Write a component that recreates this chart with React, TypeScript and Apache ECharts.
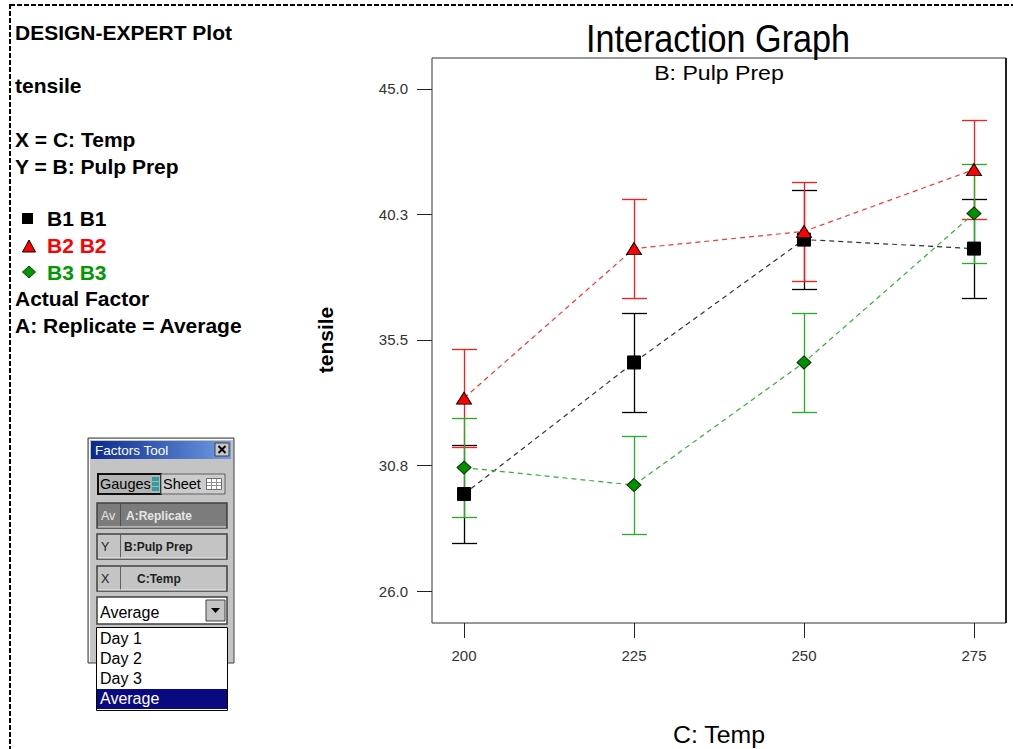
import React, { useEffect, useRef } from "react";
import * as echarts from "echarts";

// ---- data ----
const temps = [200, 225, 250, 275];
const b1Means = [29.67, 34.65, 39.3, 38.96];
const b2Means = [33.3, 38.96, 39.61, 41.95];
const b3Means = [30.67, 30.01, 34.65, 40.29];
const b1HalfLsd = [1.86, 1.86, 1.86, 1.86];
const b2HalfLsd = [1.86, 1.86, 1.86, 1.86];
const b3HalfLsd = [1.86, 1.86, 1.86, 1.86];
const xTicks = [200, 225, 250, 275];
const yTicks = [26.0, 30.75, 35.5, 40.25, 45.0];
const infoLines = ["DESIGN-EXPERT Plot", "tensile", "X = C: Temp", "Y = B: Pulp Prep"];
const legendNames = ["B1 B1", "B2 B2", "B3 B3"];
const footerLines = ["Actual Factor", "A: Replicate = Average"];
const factorRows = [
  ["Av", "A:Replicate"],
  ["Y", "B:Pulp Prep"],
  ["X", "C:Temp"],
];
const replicateOptions = ["Day 1", "Day 2", "Day 3", "Average"];

const FONT = "Liberation Sans, Arial, sans-serif";

function errorSeries(name: string, means: number[], half: number[], color: string, z: number) {
  return {
    type: "custom",
    name,
    silent: true,
    z,
    data: temps.map((t, i) => [t, means[i] - half[i], means[i] + half[i]]),
    encode: { x: 0, y: [1, 2] },
    renderItem: (params: any, api: any) => {
      const x = api.value(0);
      const lo = api.coord([x, api.value(1)]);
      const hi = api.coord([x, api.value(2)]);
      const cx = Math.round(lo[0]) + 0.5;
      const yl = Math.round(lo[1]) + 0.5;
      const yh = Math.round(hi[1]) + 0.5;
      const w = 12.5;
      const st = { stroke: color, lineWidth: 1.3 };
      return {
        type: "group",
        children: [
          { type: "line", shape: { x1: cx, y1: yl, x2: cx, y2: yh }, style: st },
          { type: "line", shape: { x1: cx - w, y1: yl, x2: cx + w, y2: yl }, style: st },
          { type: "line", shape: { x1: cx - w, y1: yh, x2: cx + w, y2: yh }, style: st },
        ],
      };
    },
  };
}

function lineSeries(name: string, means: number[], symbol: string, size: any, fill: string, border: string, lineColor: string) {
  return {
    type: "line",
    name,
    silent: true,
    z: 5,
    data: temps.map((t, i) => [t, means[i]]),
    symbol,
    symbolSize: size,
    showSymbol: true,
    itemStyle: { color: fill, borderColor: border, borderWidth: 1 },
    lineStyle: { color: lineColor, width: 1.2, type: [5, 4] },
    emphasis: { disabled: true },
  };
}

function txt(text: string, x: number, y: number, extra: any = {}) {
  return {
    type: "text",
    x,
    y,
    silent: true,
    style: {
      text,
      fontFamily: FONT,
      fontSize: 21,
      fill: "#000",
      align: "left",
      verticalAlign: "middle",
      ...extra,
    },
  };
}

function buildGraphics() {
  const g: any[] = [];
  // dashed page border (top and left only), drawn as small dash rects
  for (let x = 10; x < 1013; x += 7) {
    g.push({ type: "rect", silent: true, shape: { x, y: 4, width: Math.min(5, 1013 - x), height: 2 }, style: { fill: "#000" } });
  }
  for (let y = 4; y < 749; y += 7) {
    g.push({ type: "rect", silent: true, shape: { x: 9, y, width: 2, height: Math.min(5, 749 - y) }, style: { fill: "#000" } });
  }
  // left info block
  const infoY = [32.5, 85, 139.5, 166];
  const bold = { fontWeight: "bold" };
  infoLines.forEach((t, i) => g.push(txt(t, 15, infoY[i], bold)));
  const legY = [218, 245, 272];
  const legColors = ["#000", "#ff0000", "#009900"];
  legendNames.forEach((t, i) => g.push(txt(t, 47, legY[i], { fill: legColors[i], fontWeight: "bold" })));
  g.push({ type: "rect", silent: true, shape: { x: 22, y: 213, width: 11, height: 11 }, style: { fill: "#000" } });
  g.push({ type: "polygon", silent: true, shape: { points: [[29, 240], [35.5, 252], [22.5, 252]] }, style: { fill: "#ff0000", stroke: "#000", lineWidth: 1 } });
  g.push({ type: "polygon", silent: true, shape: { points: [[29, 266], [35.5, 272], [29, 278], [22.5, 272]] }, style: { fill: "#009900", stroke: "#003300", lineWidth: 1 } });
  const footY = [298, 325];
  footerLines.forEach((t, i) => g.push(txt(t, 15, footY[i], bold)));

  // chart titles
  g.push({ type: "text", x: 718, y: 39, scaleX: 0.9, silent: true, style: { text: "Interaction Graph", fontFamily: FONT, fontSize: 38, fill: "#000", align: "center", verticalAlign: "middle" } });
  g.push({ type: "text", x: 719, y: 73, scaleX: 1.1, silent: true, style: { text: "B: Pulp Prep", fontFamily: FONT, fontSize: 21, fill: "#000", align: "center", verticalAlign: "middle" } });
  g.push({ type: "text", x: 719, y: 735, scaleX: 1.08, silent: true, style: { text: "C: Temp", fontFamily: FONT, fontSize: 23, fill: "#000", align: "center", verticalAlign: "middle" } });
  g.push({ type: "text", x: 325, y: 340, rotation: Math.PI / 2, silent: true, style: { text: "tensile", fontFamily: FONT, fontSize: 21, fontWeight: "bold", fill: "#000", align: "center", verticalAlign: "middle" } });
  // thicker right frame edge
  g.push({ type: "rect", silent: true, shape: { x: 1005, y: 58, width: 2, height: 565 }, style: { fill: "#222" } });

  // ---- Factors Tool window ----
  const wx = 88, wy = 438, ww = 146, wh = 225;
  g.push({ type: "rect", silent: true, shape: { x: wx, y: wy, width: ww, height: wh }, style: { fill: "#c4c4c4", stroke: "#404040", lineWidth: 1 } });
  g.push({ type: "polyline", silent: true, shape: { points: [[wx + 1.5, wy + wh - 1], [wx + 1.5, wy + 1.5], [wx + ww - 1, wy + 1.5]] }, style: { stroke: "#ffffff", lineWidth: 1, fill: null } });
  g.push({
    type: "rect", silent: true, shape: { x: 91, y: 441, width: 140, height: 18 },
    style: { fill: new echarts.graphic.LinearGradient(0, 0, 1, 0, [{ offset: 0, color: "#0a2a8c" }, { offset: 1, color: "#6f9ce4" }]) },
  });
  g.push(txt("Factors Tool", 95, 450.5, { fill: "#fff", fontSize: 13.5 }));
  g.push({ type: "rect", silent: true, shape: { x: 215, y: 443, width: 14, height: 13 }, style: { fill: "#c8c8c8", stroke: "#404040", lineWidth: 1 } });
  g.push({ type: "line", silent: true, shape: { x1: 218.5, y1: 446, x2: 225.5, y2: 453 }, style: { stroke: "#000", lineWidth: 2 } });
  g.push({ type: "line", silent: true, shape: { x1: 225.5, y1: 446, x2: 218.5, y2: 453 }, style: { stroke: "#000", lineWidth: 2 } });

  // Gauges / Sheet buttons
  g.push({ type: "rect", silent: true, shape: { x: 98, y: 474, width: 63, height: 20 }, style: { fill: "#b4b4b4", stroke: "#101010", lineWidth: 2 } });
  g.push(txt("Gauges", 100, 484, { fontSize: 14.5, fill: "#000" }));
  g.push({ type: "rect", silent: true, shape: { x: 152, y: 477, width: 7, height: 4 }, style: { fill: "#2aa0a0" } });
  g.push({ type: "rect", silent: true, shape: { x: 152, y: 482, width: 7, height: 4 }, style: { fill: "#2aa0a0" } });
  g.push({ type: "rect", silent: true, shape: { x: 152, y: 487, width: 7, height: 4 }, style: { fill: "#2aa0a0" } });
  g.push({ type: "rect", silent: true, shape: { x: 161, y: 474, width: 64, height: 20 }, style: { fill: "#cccccc", stroke: "#606060", lineWidth: 1 } });
  g.push(txt("Sheet", 163, 484, { fontSize: 14.5, fill: "#000" }));
  g.push({ type: "rect", silent: true, shape: { x: 206.5, y: 478.5, width: 15, height: 11 }, style: { fill: "#fff", stroke: "#707070", lineWidth: 1 } });
  [211.5, 216.5].forEach((xx) => g.push({ type: "line", silent: true, shape: { x1: xx, y1: 479, x2: xx, y2: 489 }, style: { stroke: "#909090", lineWidth: 1 } }));
  [482.5, 485.5].forEach((yy) => g.push({ type: "line", silent: true, shape: { x1: 207, y1: yy, x2: 221, y2: yy }, style: { stroke: "#909090", lineWidth: 1 } }));

  // factor rows
  const rowY = [503, 534, 566];
  const rowTextX = [126, 124, 137];
  factorRows.forEach((r, i) => {
    const y = rowY[i];
    const dark = i === 0;
    g.push({ type: "rect", silent: true, shape: { x: 97, y, width: 130, height: 25 }, style: { fill: dark ? "#7c7c7c" : "#c4c4c4", stroke: "#404040", lineWidth: 1.5 } });
    g.push({ type: "line", silent: true, shape: { x1: 120.5, y1: y + 1, x2: 120.5, y2: y + 24 }, style: { stroke: dark ? "#505050" : "#606060", lineWidth: 1 } });
    g.push({ type: "line", silent: true, shape: { x1: 98, y1: y + 24, x2: 226, y2: y + 24 }, style: { stroke: "#eeeeee", lineWidth: 1 } });
    g.push(txt(r[0], 101, y + 12.5, { fontSize: 12.5, fill: dark ? "#e6e6e6" : "#222" }));
    g.push(txt(r[1], rowTextX[i], y + 12.5, { fontSize: 12, fontWeight: "bold", fill: dark ? "#e6e6e6" : "#222" }));
  });

  // dropdown
  g.push({ type: "rect", silent: true, shape: { x: 97, y: 597, width: 130, height: 27 }, style: { fill: "#fff", stroke: "#404040", lineWidth: 1.5 } });
  g.push(txt(replicateOptions[3], 100, 612, { fontSize: 16, fill: "#000" }));
  g.push({ type: "rect", silent: true, shape: { x: 206, y: 600, width: 19, height: 21 }, style: { fill: "#c4c4c4", stroke: "#404040", lineWidth: 1 } });
  g.push({ type: "polygon", silent: true, shape: { points: [[211, 608], [220, 608], [215.5, 613]] }, style: { fill: "#000" } });

  // open list
  g.push({ type: "rect", silent: true, shape: { x: 96.5, y: 627.5, width: 131, height: 83 }, style: { fill: "#fff", stroke: "#000", lineWidth: 1 } });
  const itemY = [638, 658, 678, 698];
  g.push({ type: "rect", silent: true, shape: { x: 97, y: 689, width: 130, height: 20 }, style: { fill: "#0a0a80" } });
  replicateOptions.forEach((t, i) => g.push(txt(t, 100, itemY[i], { fontSize: 16, fill: i === 3 ? "#fff" : "#000" })));
  return g;
}

export default function App() {
  const ref = useRef<HTMLDivElement>(null);
  useEffect(() => {
    if (!ref.current) return;
    const chart = echarts.init(ref.current, undefined, { renderer: "svg" });
    const option: any = {
      animation: false,
      backgroundColor: "#fff",
      grid: { left: 432, top: 58, width: 574, height: 565, show: true, borderColor: "#333", borderWidth: 1, backgroundColor: "transparent", containLabel: false, outerBoundsMode: "none" },
      xAxis: {
        type: "value",
        min: 195.29,
        max: 279.71,
        axisLine: { show: false, onZero: false },
        splitLine: { show: false },
        axisTick: { show: true, customValues: xTicks, length: 15, lineStyle: { color: "#222" } },
        axisLabel: { customValues: xTicks, margin: 25, fontSize: 15, fontFamily: FONT, color: "#333" },
      },
      yAxis: {
        type: "value",
        min: 24.789,
        max: 46.173,
        axisLine: { show: false, onZero: false },
        splitLine: { show: false },
        axisTick: { show: true, customValues: yTicks, length: 15, lineStyle: { color: "#222" } },
        axisLabel: { customValues: yTicks, margin: 24, fontSize: 15, fontFamily: FONT, color: "#333", formatter: (v: number) => v.toFixed(1) },
      },
      graphic: buildGraphics(),
      series: [
        errorSeries("B1 B1 LSD", b1Means, b1HalfLsd, "#000000", 2),
        errorSeries("B2 B2 LSD", b2Means, b2HalfLsd, "#ff1a1a", 2),
        errorSeries("B3 B3 LSD", b3Means, b3HalfLsd, "#22b022", 2),
        lineSeries("B1 B1", b1Means, "rect", 13, "#000000", "#000000", "#333333"),
        lineSeries("B2 B2", b2Means, "triangle", [15, 12], "#ff0000", "#000000", "#ff3030"),
        lineSeries("B3 B3", b3Means, "diamond", [14, 13], "#009000", "#003300", "#33b033"),
      ],
    };
    chart.setOption(option);
    return () => chart.dispose();
  }, []);
  return <div ref={ref} style={{ position: "fixed", left: 0, top: 0, width: 1013, height: 749 }} />;
}
